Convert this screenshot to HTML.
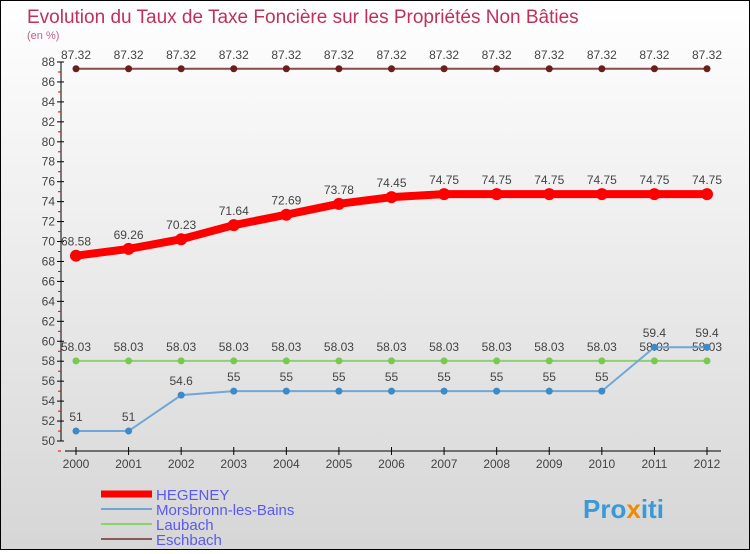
<!DOCTYPE html>
<html><head><meta charset="utf-8"><style>
body{margin:0;width:750px;height:550px;overflow:hidden;font-family:"Liberation Sans",sans-serif}
#wrap{position:absolute;left:0;top:0;width:748px;height:548px;border:1px solid #000;background:linear-gradient(#fff,#d6d6d6)}
</style></head><body>
<div id="wrap">
<svg id="svg" width="748" height="548" xmlns="http://www.w3.org/2000/svg">
<text x="26" y="22" font-size="19" fill="#c0305a">Evolution du Taux de Taxe Foncière sur les Propriétés Non Bâties</text>
<text x="26" y="38" font-size="11" fill="#c0608a">(en %)</text>
<g id="axes"></g><g id="series"></g><g id="legend"></g>
<text x="582" y="517" font-size="26" font-weight="bold" fill="#3a9ad8">Pro<tspan fill="#f08a00">x</tspan>iti</text>
</svg></div>
<script>
const years=[2000,2001,2002,2003,2004,2005,2006,2007,2008,2009,2010,2011,2012];
const hegeney=[68.58,69.26,70.23,71.64,72.69,73.78,74.45,74.75,74.75,74.75,74.75,74.75,74.75];
const morsbronn=[51,51,54.6,55,55,55,55,55,55,55,55,59.4,59.4];
const laubach=[58.03,58.03,58.03,58.03,58.03,58.03,58.03,58.03,58.03,58.03,58.03,58.03,58.03];
const eschbach=[87.32,87.32,87.32,87.32,87.32,87.32,87.32,87.32,87.32,87.32,87.32,87.32,87.32];
const yTicks=[50,52,54,56,58,60,62,64,66,68,70,72,74,76,78,80,82,84,86,88];
const NS="http://www.w3.org/2000/svg";
const xS=i=>75+i*(706-75)/(years.length-1);
const yS=v=>440-(v-50)*(440-61)/38;
function mk(t,a,p){const e=document.createElementNS(NS,t);for(const k in a)e.setAttribute(k,a[k]);p.appendChild(e);return e;}
const ax=document.getElementById('axes');
let l=mk('line',{x1:60,y1:61,x2:60,y2:440,stroke:'#000'},ax);


yTicks.forEach(v=>{const y=yS(v);
 mk('line',{x1:56,y1:y,x2:63,y2:y,stroke:'#000'},ax);
 mk('line',{x1:57,y1:y+10,x2:60,y2:y+10,stroke:'#e00'},ax);
 const t=mk('text',{x:54,y:y+4,'font-size':12,fill:'#444','text-anchor':'end'},ax);t.textContent=v;
 
 });
l=mk('line',{x1:64,y1:450,x2:720,y2:450,stroke:'#000'},ax);


years.forEach((yr,i)=>{const x=xS(i);
 mk('line',{x1:x,y1:446,x2:x,y2:454,stroke:'#000'},ax);
 const t=mk('text',{x:x,y:467,'font-size':12,fill:'#444','text-anchor':'middle'},ax);t.textContent=yr;
 
 });
const sg=document.getElementById('series');
function series(name,vals,col,lw,r,dot){
 const g=mk('g',{},sg);
 
 
 mk('polyline',{points:vals.map((v,i)=>xS(i)+','+yS(v)).join(' '),fill:'none',stroke:col,'stroke-width':lw},g);
 vals.forEach((v,i)=>{const c=mk('circle',{cx:xS(i),cy:yS(v),r:r,fill:dot},g);
  
  
  const t=mk('text',{x:xS(i),y:yS(v)-10,'font-size':12,fill:'#444','text-anchor':'middle'},g);t.textContent=String(v);
  
  });
}
series('eschbach',eschbach,'#8a4a4a',2,3.5,'#6a1e1e');
series('laubach',laubach,'#8fd070',2,3.5,'#7ac850');
series('morsbronn',morsbronn,'#6fa8d8',2,3.5,'#3d8ac8');
series('hegeney',hegeney,'#f00',8,6,'#f00');
const lg=document.getElementById('legend');
[['HEGENEY','#f00',7],['Morsbronn-les-Bains','#6fa8d8',2],['Laubach','#8fd070',2],['Eschbach','#8a5a5a',2]].forEach((d,i)=>{
 const y=493+i*15;
 const g=mk('g',{},lg);
 
 
 mk('line',{x1:100,y1:y,x2:151,y2:y,stroke:d[1],'stroke-width':d[2]},g);
 const t=mk('text',{x:155,y:y+6,'font-size':15,fill:'#5a5af0'},g);t.textContent=d[0];
});
</script>
</body></html>
